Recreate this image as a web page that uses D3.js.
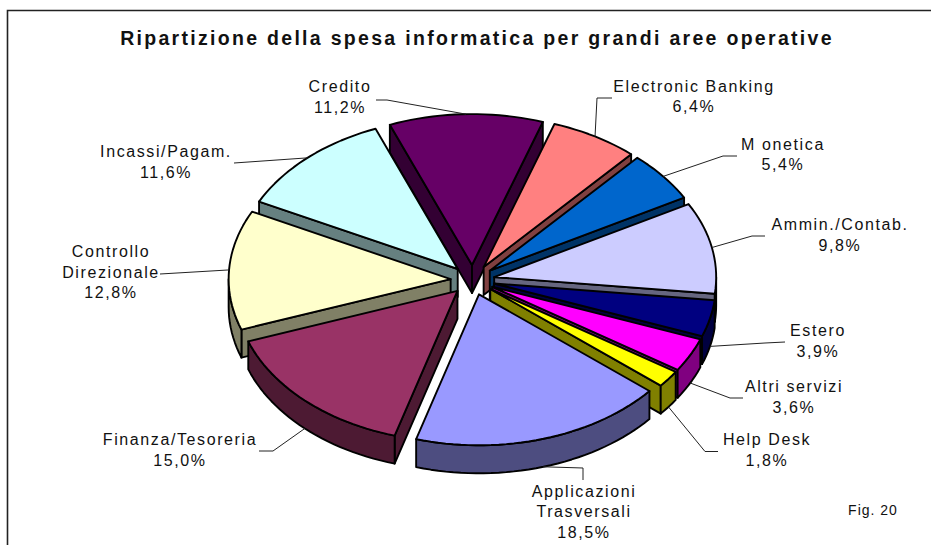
<!DOCTYPE html>
<html>
<head>
<meta charset="utf-8">
<style>
  html, body { margin: 0; padding: 0; background: #fff; }
  svg { display: block; }
  text { font-family: "Liberation Sans", Arial, sans-serif; fill: #111; }
</style>
<script src="https://cdn.jsdelivr.net/npm/d3@7"></script>
</head>
<body>
<svg id="chart" width="931" height="545"></svg>
<script>
// Spending shares, clockwise from the slice after "Credito".
const categories = [
  ["Electronic Banking"], ["M onetica"], ["Ammin./Contab."], ["Estero"],
  ["Altri servizi"], ["Help Desk"], ["Applicazioni", "Trasversali"],
  ["Finanza/Tesoreria"], ["Controllo", "Direzionale"], ["Incassi/Pagam."], ["Credito"]
];
const shares = [6.4, 5.4, 9.8, 3.9, 3.6, 1.8, 18.5, 15.0, 12.8, 11.6, 11.2];
const topColors = ["#FF8080", "#0066CC", "#CCCCFF", "#000080", "#FF00FF", "#FFFF00",
                   "#9999FF", "#993366", "#FFFFCC", "#CCFFFF", "#660066"];
const wallColors = ["#804040", "#003366", "#666680", "#000040", "#800080", "#808000",
                    "#4D4D80", "#4D1A33", "#808066", "#668080", "#330033"];

// Label placement: text centre, first baseline and the elbow of each leader line.
const labelLayout = [
  { x: 694, y: 91.5, leader: [[612, 98], [597, 98]] },
  { x: 783, y: 149.5, leader: [[737, 156], [723, 156]] },
  { x: 840, y: 230, leader: [[765, 236], [752, 236]] },
  { x: 818, y: 336, leader: [[785, 342], [765, 343]] },
  { x: 794, y: 392, leader: [[743, 398], [730, 398]] },
  { x: 767, y: 445, leader: [[718, 451.5], [705, 451.5]] },
  { x: 584, y: 496.5, leader: [[583, 480], [583, 468]] },
  { x: 180, y: 445, leader: [[259, 451], [273, 451]] },
  { x: 111, y: 257, leader: [[160, 274]] },
  { x: 166, y: 157, leader: [[234, 163]] },
  { x: 340, y: 92,  leader: [[376, 100], [387, 100]] }
];

const title = "Ripartizione della spesa informatica per grandi aree operative";
const figureNote = "Fig. 20";

const center = { x: 472.6, y: 280 };
const radius = 222, tilt = 0.68, depth = 28, explode = 22;
const startDeg = 18.6;
const toRad = Math.PI / 180;

const svg = d3.select("#chart");

// Angles are measured clockwise from north on the pie plane, as d3.pie does.
const slices = d3.pie().sort(null).value(d => d)
  .startAngle(startDeg * toRad).endAngle((startDeg + 360) * toRad)(shares)
  .map((s, i) => ({
    ...s, i,
    mid: (s.startAngle + s.endAngle) / 2
  }));

const radial = d3.scaleLinear().domain([0, 1]).range([0, radius]);

// Projects a polar position on a slice to the screen; z runs down the pie's thickness.
function project(slice, angle, r, z) {
  const ox = center.x + explode * Math.sin(slice.mid);
  const oy = center.y - explode * tilt * Math.cos(slice.mid);
  return [ox + radial(r) * Math.sin(angle), oy - radial(r) * tilt * Math.cos(angle) + z];
}

const line = d3.line();
const closed = pts => line(pts) + "Z";

function arcAngles(a, b) {
  const n = Math.max(2, Math.ceil(Math.abs(b - a) / (2 * toRad)));
  return d3.range(n + 1).map(k => a + (b - a) * k / n);
}

// Back slices first, so nearer ones paint over them.
const order = slices.slice().sort((p, q) => Math.cos(q.mid) - Math.cos(p.mid));

const pie = svg.append("g")
  .attr("stroke", "#000").attr("stroke-width", 1.9).attr("stroke-linejoin", "round");

order.forEach(s => {
  const g = pie.append("g");
  const wall = angle => closed([
    project(s, 0, 0, 0), project(s, angle, 1, 0),
    project(s, angle, 1, depth), project(s, 0, 0, depth)
  ]);
  const wallVisible = normal => Math.cos(normal) < 0;

  if (wallVisible(s.startAngle - Math.PI / 2)) {
    g.append("path").attr("d", wall(s.startAngle)).attr("fill", wallColors[s.i]);
  }
  if (wallVisible(s.endAngle + Math.PI / 2)) {
    g.append("path").attr("d", wall(s.endAngle)).attr("fill", wallColors[s.i]);
  }

  // Rim only where the edge faces the viewer (southern half of the ellipse).
  const lo = Math.max(s.startAngle, Math.PI / 2), hi = Math.min(s.endAngle, 1.5 * Math.PI);
  if (hi > lo) {
    const along = arcAngles(lo, hi);
    g.append("path")
      .attr("d", closed([
        ...along.map(a => project(s, a, 1, 0)),
        ...along.slice().reverse().map(a => project(s, a, 1, depth))
      ]))
      .attr("fill", wallColors[s.i]);
  }

  g.append("path")
    .attr("d", closed([
      project(s, 0, 0, 0),
      ...arcAngles(s.startAngle, s.endAngle).map(a => project(s, a, 1, 0))
    ]))
    .attr("fill", topColors[s.i]);
});

// Leader lines run from the rim at each slice's bisector to its label.
const leaders = svg.append("g").attr("fill", "none").attr("stroke", "#222").attr("stroke-width", 1);
slices.forEach(s => {
  const z = Math.cos(s.mid) < 0 ? depth : 0;
  const pts = [...labelLayout[s.i].leader, project(s, s.mid, 1, z)];
  leaders.append("path").attr("d", line(pts));
});

const percent = v => d3.format(".1f")(v).replace(".", ",") + "%";

const labels = svg.append("g").attr("font-size", 16).attr("text-anchor", "middle")
  .attr("letter-spacing", 1.6);
slices.forEach(s => {
  const layout = labelLayout[s.i];
  const rows = [...categories[s.i], percent(s.data)];
  labels.append("text").selectAll("tspan").data(rows).join("tspan")
    .attr("x", layout.x)
    .attr("y", (d, k) => layout.y + k * 20.5)
    .text(d => d);
});

svg.append("text").attr("x", 477).attr("y", 45)
  .attr("text-anchor", "middle").attr("font-size", 19.5).attr("font-weight", "bold")
  .attr("letter-spacing", 2.3)
  .text(title);

svg.append("text").attr("x", 873).attr("y", 515)
  .attr("text-anchor", "middle").attr("font-size", 14).attr("letter-spacing", 1)
  .text(figureNote);

// Chart frame: only the top and left edges fall inside the page.
svg.append("path")
  .attr("d", line([[7.5, 545], [7.5, 10.5], [931, 10.5]]))
  .attr("fill", "none").attr("stroke", "#222").attr("stroke-width", 1.6);
</script>
</body>
</html>
